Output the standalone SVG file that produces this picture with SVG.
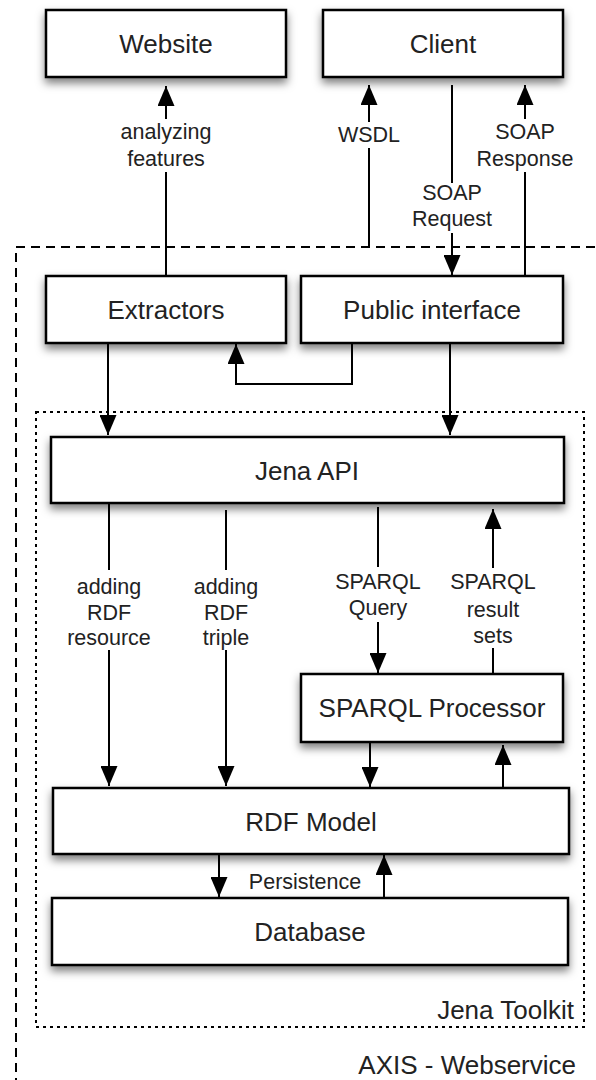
<svg xmlns="http://www.w3.org/2000/svg" width="596" height="1080" viewBox="0 0 596 1080">
<style>
.box{fill:#fff;stroke:#000;stroke-width:2.5;filter:url(#sh)}
.lbl{font-family:"Liberation Sans",Arial,sans-serif;font-size:26px;fill:#222;text-anchor:middle;dominant-baseline:central}
.sm{font-family:"Liberation Sans",Arial,sans-serif;font-size:21.5px;fill:#222;text-anchor:middle;dominant-baseline:central}
.cap{font-family:"Liberation Sans",Arial,sans-serif;font-size:26px;fill:#222;text-anchor:end;dominant-baseline:central}
.ln{fill:none;stroke:#000;stroke-width:2}
.arr{fill:none;stroke:#000;stroke-width:2;marker-end:url(#ah)}
</style>
<defs>
<filter id="sh" x="-10%" y="-20%" width="120%" height="160%">
<feDropShadow dx="0" dy="5" stdDeviation="4" flood-color="#000" flood-opacity="0.5"/>
</filter>
<marker id="ah" viewBox="0 0 20 17" refX="20" refY="8.5" markerWidth="20" markerHeight="17" markerUnits="userSpaceOnUse" orient="auto">
<path d="M0,0 L20,8.5 L0,17 z" fill="#000"/>
</marker>
</defs>
<rect width="596" height="1080" fill="#fff"/>
<g id="axis-webservice">
<rect x="16" y="247" width="600" height="900" fill="none" stroke="#000" stroke-width="2" stroke-dasharray="9 6"/>
<text class="cap" x="576" y="1065">AXIS - Webservice</text>
</g>
<g id="jena-toolkit">
<rect x="36" y="412" width="548" height="615" fill="none" stroke="#000" stroke-width="2" stroke-dasharray="3 4"/>
<text class="cap" x="574" y="1010">Jena Toolkit</text>
</g>
<g id="connectors">
<path class="ln" d="M166,276 V172"/>
<path class="arr" d="M166,119 V86"/>
<text class="sm" x="166" y="132">analyzing</text>
<text class="sm" x="166" y="159">features</text>
<path class="ln" d="M369,246 V148"/>
<path class="arr" d="M369,122 V85"/>
<text class="sm" x="369" y="135">WSDL</text>
<path class="ln" d="M452,85 V183"/>
<path class="arr" d="M452,233 V275"/>
<text class="sm" x="452" y="193">SOAP</text>
<text class="sm" x="452" y="219">Request</text>
<path class="ln" d="M525,276 V172"/>
<path class="arr" d="M525,119 V85"/>
<text class="sm" x="525" y="132">SOAP</text>
<text class="sm" x="525" y="159">Response</text>
<path class="arr" d="M352,343 V384 H236 V344"/>
<path class="arr" d="M108,343 V435"/>
<path class="arr" d="M450,343 V435"/>
<path class="ln" d="M109,503 V570"/>
<path class="arr" d="M109,650 V786"/>
<text class="sm" x="109" y="587">adding</text>
<text class="sm" x="109" y="613">RDF</text>
<text class="sm" x="109" y="638">resource</text>
<path class="ln" d="M226,510 V570"/>
<path class="arr" d="M226,650 V786"/>
<text class="sm" x="226" y="587">adding</text>
<text class="sm" x="226" y="613">RDF</text>
<text class="sm" x="226" y="638">triple</text>
<path class="ln" d="M378,507 V567"/>
<path class="arr" d="M378,622 V673"/>
<text class="sm" x="378" y="582">SPARQL</text>
<text class="sm" x="378" y="608">Query</text>
<path class="arr" d="M493,568 V509"/>
<path class="ln" d="M493,674 V648"/>
<text class="sm" x="493" y="582">SPARQL</text>
<text class="sm" x="493" y="610">result</text>
<text class="sm" x="493" y="636">sets</text>
<path class="arr" d="M370,742 V787"/>
<path class="arr" d="M503,788 V745"/>
<path class="arr" d="M219,854 V897"/>
<path class="arr" d="M384,898 V855"/>
<text class="sm" x="305" y="882">Persistence</text>
</g>
<g id="website"><rect class="box" x="46" y="10" width="240" height="67"/><text class="lbl" x="166" y="44">Website</text></g>
<g id="client"><rect class="box" x="323" y="10" width="240" height="67"/><text class="lbl" x="443" y="44">Client</text></g>
<g id="extractors"><rect class="box" x="46" y="276" width="240" height="67"/><text class="lbl" x="166" y="310">Extractors</text></g>
<g id="public-interface"><rect class="box" x="301" y="276" width="262" height="67"/><text class="lbl" x="432" y="310">Public interface</text></g>
<g id="jena-api"><rect class="box" x="51" y="437" width="513" height="66"/><text class="lbl" x="307" y="471">Jena API</text></g>
<g id="sparql-processor"><rect class="box" x="301" y="674" width="262" height="68"/><text class="lbl" x="432" y="708">SPARQL Processor</text></g>
<g id="rdf-model"><rect class="box" x="53" y="788" width="516" height="66"/><text class="lbl" x="311" y="822">RDF Model</text></g>
<g id="database"><rect class="box" x="52" y="898" width="516" height="67"/><text class="lbl" x="310" y="932">Database</text></g>
</svg>
